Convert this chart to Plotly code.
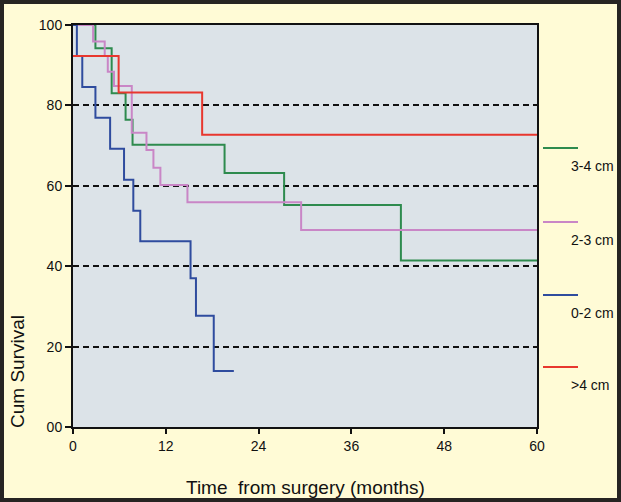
import plotly.graph_objects as go

# ---- data ----
series_names = ["3-4 cm", "2-3 cm", "0-2 cm", ">4 cm"]
series_colors = ["#2E8B4E", "#C986C6", "#2F4C9E", "#E8372E"]

months_3_4 = [0, 2.9, 5.0, 6.8, 7.7, 19.6, 27.3, 42.4, 60]
surv_3_4 = [100, 94.2, 83.0, 76.4, 70.2, 63.2, 55.2, 41.4, 41.4]

months_2_3 = [0, 2.6, 4.1, 4.5, 5.3, 7.6, 9.5, 10.4, 11.3, 14.8, 29.5, 60]
surv_2_3 = [100, 95.9, 92.3, 88.4, 84.8, 73.2, 68.9, 64.5, 60.2, 55.9, 49.0, 49.0]

months_0_2 = [0, 0.5, 1.2, 2.9, 4.8, 6.6, 7.8, 8.7, 15.2, 15.9, 18.2, 20.8]
surv_0_2 = [100, 92.3, 84.6, 76.9, 69.2, 61.5, 53.8, 46.2, 37.0, 27.7, 13.9, 13.9]

months_gt4 = [0, 5.9, 16.7, 60]
surv_gt4 = [92.3, 83.2, 72.7, 72.7]

x_ticks = [0, 12, 24, 36, 48, 60]
y_ticks = [0, 20, 40, 60, 80, 100]
y_tick_labels = ["00", "20", "40", "60", "80", "100"]

x_title = "Time\u00a0 from surgery (months)"
y_title = "Cum Survival"

# ---- layout geometry ----
W, H = 621, 502
ML, MR, MT, MB = 73, 84, 25, 75
PW, PH = W - ML - MR, H - MT - MB


def px_x(px):
    return (px - ML) / PW


def px_y(py):
    return (H - MB - py) / PH


series_x = [months_3_4, months_2_3, months_0_2, months_gt4]
series_y = [surv_3_4, surv_2_3, surv_0_2, surv_gt4]

fig = go.Figure()
for name, col, xs, ys in zip(series_names, series_colors, series_x, series_y):
    fig.add_trace(go.Scatter(
        x=xs, y=ys, mode="lines", name=name,
        line=dict(color=col, width=2, shape="hv"),
        showlegend=False, cliponaxis=False,
    ))

font_family = "Liberation Sans, Arial, sans-serif"

fig.update_layout(
    width=W, height=H,
    margin=dict(l=ML, r=MR, t=MT, b=MB, pad=0),
    paper_bgcolor="#FFFBD6",
    plot_bgcolor="#DCE3E8",
    font=dict(family=font_family, color="#111111", size=13),
    xaxis=dict(
        range=[0, 60], tickvals=x_ticks, ticktext=[str(v) for v in x_ticks],
        showgrid=False, zeroline=False,
        showline=True, linecolor="#111111", linewidth=2, mirror=True,
        ticks="outside", ticklen=5, tickwidth=1.5, tickcolor="#111111",
        tickfont=dict(size=14),
    ),
    yaxis=dict(
        range=[0, 100], tickvals=y_ticks, ticktext=y_tick_labels,
        showgrid=True, gridcolor="#111111", gridwidth=2, griddash="6px,4px",
        zeroline=False,
        showline=True, linecolor="#111111", linewidth=2, mirror=True,
        ticks="outside", ticklen=6, tickwidth=1.5, tickcolor="#111111",
        tickfont=dict(size=14),
    ),
)

annotations = [
    dict(text=x_title, xref="paper", yref="paper", x=px_x(305), y=px_y(487),
         xanchor="center", yanchor="middle", showarrow=False,
         font=dict(size=19, family=font_family, color="#111111")),
    dict(text=y_title, xref="paper", yref="paper", x=px_x(17), y=px_y(372),
         xanchor="center", yanchor="middle", showarrow=False, textangle=-90,
         font=dict(size=19, family=font_family, color="#111111")),
]
shapes = []

legend_line_y = [148, 222, 295, 367]
for name, col, ly in zip(series_names, series_colors, legend_line_y):
    shapes.append(dict(type="line", xref="paper", yref="paper",
                       x0=px_x(543), x1=px_x(578), y0=px_y(ly), y1=px_y(ly),
                       line=dict(color=col, width=2)))
    annotations.append(dict(text=name, xref="paper", yref="paper",
                            x=px_x(569), y=px_y(ly + 18),
                            xanchor="left", yanchor="middle", showarrow=False,
                            font=dict(size=14, family=font_family, color="#111111")))

# outer dark frame
shapes.append(dict(type="rect", xref="paper", yref="paper",
                   x0=px_x(0), x1=px_x(W), y0=px_y(H), y1=px_y(0),
                   line=dict(color="#262422", width=8), fillcolor="rgba(0,0,0,0)",
                   layer="above"))

fig.update_layout(annotations=annotations, shapes=shapes)

fig.write_html(
    "out.html",
    config={"displayModeBar": False},
    post_script="document.body.style.margin='0';document.body.style.padding='0';"
                "document.body.style.overflow='hidden';",
)
